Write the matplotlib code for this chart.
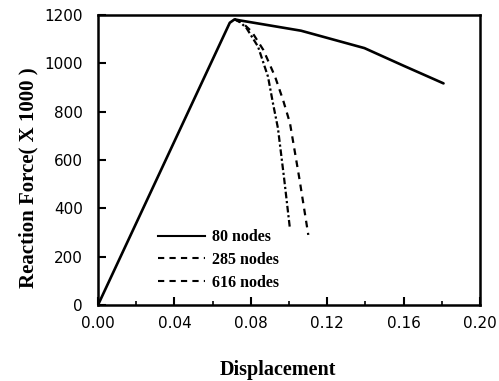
import matplotlib
matplotlib.use("Agg")
import matplotlib.pyplot as plt
from matplotlib.lines import Line2D
from matplotlib.ticker import MultipleLocator, FormatStrFormatter

# load-displacement curves for three mesh densities
disp_80 = [0.0, 0.0690, 0.0715, 0.0740, 0.1063, 0.1395, 0.1600, 0.1809]
force_80 = [0, 1168, 1182, 1178, 1135, 1063, 990, 917]

disp_285 = [0.0715, 0.0760, 0.0805, 0.0866, 0.0927, 0.0969, 0.1005, 0.1055, 0.1101]
force_285 = [1182, 1165, 1131, 1055, 945, 848, 753, 520, 290]

disp_616 = [0.0715, 0.0745, 0.0778, 0.0838, 0.0890, 0.0916, 0.0942, 0.0975, 0.1005]
force_616 = [1182, 1170, 1145, 1069, 945, 835, 732, 520, 315]

labels = ["80 nodes", "285 nodes", "616 nodes"]

fig = plt.figure(figsize=(4.99, 3.81), dpi=100)
ax = fig.add_axes([98 / 499, 1 - 305 / 381, 382 / 499, 290 / 381])

ax.plot(disp_80, force_80, color="black", lw=1.9, solid_capstyle="round")
ax.plot(disp_285, force_285, color="black", lw=1.6, ls=(0, (3, 2.5)))
ax.plot(disp_616, force_616, color="black", lw=1.6, ls=(0, (3, 1.2, 1, 1.2)))

ax.set_xlim(0, 0.20)
ax.set_ylim(0, 1200)
ax.xaxis.set_major_locator(MultipleLocator(0.04))
ax.xaxis.set_minor_locator(MultipleLocator(0.02))
ax.yaxis.set_major_locator(MultipleLocator(200))
ax.xaxis.set_major_formatter(FormatStrFormatter("%.2f"))

for lab in ax.get_xticklabels() + ax.get_yticklabels():
    lab.set_fontfamily("DejaVu Sans")
    lab.set_fontsize(11)

ax.tick_params(axis="x", which="major", pad=8)
ax.tick_params(axis="y", which="major", pad=11)
ax.tick_params(which="major", direction="in", length=6, width=1.5,
               top=False, right=False)
ax.tick_params(which="minor", direction="in", length=3, width=1.2,
               top=False, right=False)
for sp in ax.spines.values():
    sp.set_linewidth(1.8)

ax.set_xlabel("Displacement", family="Liberation Serif", weight="bold",
              size=14.5)
ax.set_ylabel("Reaction Force( X 1000 )", family="Liberation Serif",
              weight="bold", size=15)
ax.xaxis.set_label_coords(0.471, -0.224)
ax.yaxis.set_label_coords(-0.183, 0.44)
ax.xaxis.label.set_verticalalignment("center")
ax.yaxis.label.set_verticalalignment("center")

handles = [
    Line2D([], [], color="black", lw=1.5),
    Line2D([], [], color="black", lw=1.5, ls=(0, (3, 2.5))),
    Line2D([], [], color="black", lw=1.5, ls=(0, (3, 2.5))),
]
ax.legend(handles, labels, loc="lower left", bbox_to_anchor=(0.12, 0.0),
          frameon=False, handlelength=2.9, handletextpad=0.45,
          labelspacing=0.42,
          prop={"family": "Liberation Serif", "weight": "bold", "size": 11.5})

fig.savefig("out.png", dpi=100)
